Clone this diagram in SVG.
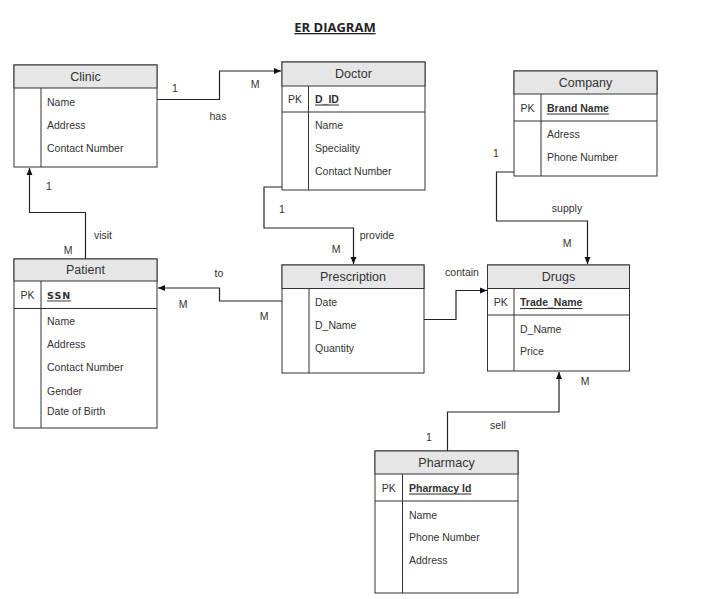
<svg xmlns="http://www.w3.org/2000/svg" width="712" height="599" viewBox="0 0 712 599">
<style>
.box{fill:#fff;stroke:#333;stroke-width:1}
.hd{fill:#e6e6e6;stroke:#333;stroke-width:1}
.ln{stroke:#333;stroke-width:1;fill:none}
.t{font-family:"Liberation Sans",Arial,sans-serif;font-size:10.5px;fill:#333;dominant-baseline:central}
.h{font-family:"Liberation Sans",Arial,sans-serif;font-size:12.5px;fill:#333;text-anchor:middle;dominant-baseline:central}
.pk{font-family:"Liberation Sans",Arial,sans-serif;font-size:10.5px;fill:#333;text-anchor:middle;dominant-baseline:central}
.k{font-family:"Liberation Sans",Arial,sans-serif;font-size:10.5px;font-weight:bold;fill:#333;text-decoration:underline;dominant-baseline:central}
.lb{font-family:"Liberation Sans",Arial,sans-serif;font-size:10.5px;fill:#333;text-anchor:middle;dominant-baseline:central}
.c{stroke:#222;stroke-width:1.2;fill:none;marker-end:url(#ar)}
.title{font-family:"Open Sans","Liberation Sans",sans-serif;font-size:13px;font-weight:bold;fill:#222;text-anchor:middle;text-decoration:underline}
</style>
<defs>
<marker id="ar" markerUnits="userSpaceOnUse" markerWidth="8" markerHeight="8" viewBox="0 0 8 8" refX="7" refY="4" orient="auto">
<path d="M0,1 L7,4 L0,7 Z" fill="#111"/>
</marker>
</defs>
<rect width="712" height="599" fill="#fff"/>
<text class="title" x="335" y="32">ER DIAGRAM</text>

<g id="connectors">
<path class="c" d="M157,99.5 H219.5 V71 H281"/>
<path class="c" d="M282,187 H264 V228 H353.5 V264"/>
<path class="c" d="M85.5,259 V212.5 H29.5 V168"/>
<path class="c" d="M282,301 H219.5 V288 H158"/>
<path class="c" d="M424,319.5 H456 V290.5 H487"/>
<path class="c" d="M514,172 H496.5 V221 H587.5 V264"/>
<path class="c" d="M447.5,451 V412 H559 V372"/>
<text class="lb" x="175" y="88">1</text>
<text class="lb" x="255" y="84">M</text>
<text class="lb" x="218" y="116">has</text>
<text class="lb" x="282" y="209">1</text>
<text class="lb" x="377" y="235">provide</text>
<text class="lb" x="336" y="249">M</text>
<text class="lb" x="49" y="186">1</text>
<text class="lb" x="103" y="235">visit</text>
<text class="lb" x="68" y="250">M</text>
<text class="lb" x="219" y="273">to</text>
<text class="lb" x="183" y="304">M</text>
<text class="lb" x="264" y="316">M</text>
<text class="lb" x="462" y="272">contain</text>
<text class="lb" x="496" y="153">1</text>
<text class="lb" x="567" y="208">supply</text>
<text class="lb" x="567" y="243">M</text>
<text class="lb" x="498" y="425">sell</text>
<text class="lb" x="429" y="437">1</text>
<text class="lb" x="585" y="381">M</text>
</g>

<g id="clinic">
<rect class="box" x="14" y="65" width="143" height="102"/>
<rect class="hd" x="14" y="65" width="143" height="23"/>
<line class="ln" x1="41" y1="88" x2="41" y2="167"/>
<text class="h" x="85.5" y="77">Clinic</text>
<text class="t" x="47" y="102">Name</text>
<text class="t" x="47" y="125">Address</text>
<text class="t" x="47" y="148">Contact Number</text>
</g>

<g id="doctor">
<rect class="box" x="282" y="62" width="143" height="128"/>
<rect class="hd" x="282" y="62" width="143" height="24"/>
<line class="ln" x1="282" y1="112" x2="425" y2="112"/>
<line class="ln" x1="308.5" y1="86" x2="308.5" y2="190"/>
<text class="h" x="353.5" y="74">Doctor</text>
<text class="pk" x="295" y="98.5">PK</text>
<text class="k" x="315" y="98.5">D_ID</text>
<text class="t" x="315" y="125">Name</text>
<text class="t" x="315" y="148">Speciality</text>
<text class="t" x="315" y="171">Contact Number</text>
</g>

<g id="company">
<rect class="box" x="514" y="71" width="143" height="105"/>
<rect class="hd" x="514" y="71" width="143" height="23"/>
<line class="ln" x1="514" y1="121" x2="657" y2="121"/>
<line class="ln" x1="541" y1="94" x2="541" y2="176"/>
<text class="h" x="585.5" y="83">Company</text>
<text class="pk" x="527.5" y="107.5">PK</text>
<text class="k" x="547" y="107.5">Brand Name</text>
<text class="t" x="547" y="133.5">Adress</text>
<text class="t" x="547" y="157">Phone Number</text>
</g>

<g id="patient">
<rect class="box" x="14" y="259" width="143" height="169"/>
<rect class="hd" x="14" y="259" width="143" height="22"/>
<line class="ln" x1="14" y1="308.5" x2="157" y2="308.5"/>
<line class="ln" x1="41" y1="281" x2="41" y2="428"/>
<text class="h" x="85.5" y="270">Patient</text>
<text class="pk" x="27.5" y="295">PK</text>
<text class="k" x="47" y="295" style="letter-spacing:1px;font-family:'DejaVu Sans',sans-serif;font-size:9.5px">SSN</text>
<text class="t" x="47" y="321">Name</text>
<text class="t" x="47" y="344">Address</text>
<text class="t" x="47" y="367">Contact Number</text>
<text class="t" x="47" y="391">Gender</text>
<text class="t" x="47" y="411">Date of Birth</text>
</g>

<g id="prescription">
<rect class="box" x="282" y="265" width="142" height="108"/>
<rect class="hd" x="282" y="265" width="142" height="23.5"/>
<line class="ln" x1="309" y1="288.5" x2="309" y2="373"/>
<text class="h" x="353" y="277">Prescription</text>
<text class="t" x="315" y="302">Date</text>
<text class="t" x="315" y="325">D_Name</text>
<text class="t" x="315" y="348">Quantity</text>
</g>

<g id="drugs">
<rect class="box" x="487.5" y="265" width="142" height="106"/>
<rect class="hd" x="487.5" y="265" width="142" height="23.5"/>
<line class="ln" x1="487.5" y1="315" x2="629.5" y2="315"/>
<line class="ln" x1="514" y1="288.5" x2="514" y2="371"/>
<text class="h" x="558.5" y="277">Drugs</text>
<text class="pk" x="500.7" y="302">PK</text>
<text class="k" x="520" y="302">Trade_Name</text>
<text class="t" x="520" y="328.5">D_Name</text>
<text class="t" x="520" y="351">Price</text>
</g>

<g id="pharmacy">
<rect class="box" x="375" y="451" width="143" height="142"/>
<rect class="hd" x="375" y="451" width="143" height="23"/>
<line class="ln" x1="375" y1="501" x2="518" y2="501"/>
<line class="ln" x1="402.5" y1="474" x2="402.5" y2="593"/>
<text class="h" x="446.5" y="463">Pharmacy</text>
<text class="pk" x="388.7" y="487.5">PK</text>
<text class="k" x="409" y="487.5">Pharmacy Id</text>
<text class="t" x="409" y="515">Name</text>
<text class="t" x="409" y="537">Phone Number</text>
<text class="t" x="409" y="560">Address</text>
</g>
</svg>
